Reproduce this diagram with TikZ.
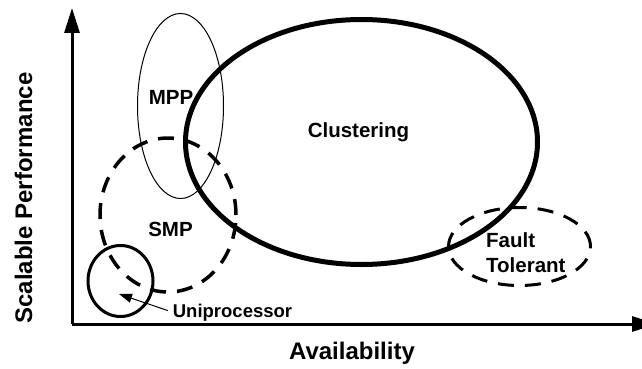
\documentclass[tikz,border=0pt]{standalone}
\usepackage{fontspec}
\setmainfont{Liberation Sans}
\usetikzlibrary{arrows.meta,shapes.geometric}
\begin{document}
\begin{tikzpicture}[x=1pt,y=-1pt,
  axis/.style={line width=3pt,-{Triangle[length=25pt,width=15pt]}},
  region/.style={ellipse,draw,inner sep=0pt},
  dashedregion/.style={region,dash pattern=on 16pt off 11pt},
  lbl/.style={inner sep=0pt,font=\fontsize{20.5}{25}\selectfont\bfseries},
  axislbl/.style={inner sep=0pt,font=\fontsize{24}{28}\selectfont\bfseries}]
\useasboundingbox (0,0) rectangle (642,369);
\clip (0,0) rectangle (642,369);

% axes
\coordinate (O) at (72,324);
\coordinate (ytop) at (72,8);
\coordinate (xend) at (657,324);
\draw[axis] (O) -- (ytop);
\draw[axis] (O) -- (xend);

% architecture regions
\node[region,line width=1pt,minimum width=86pt,minimum height=185pt] (mpp) at (180.5,106) {};
\node[region,line width=5pt,minimum width=352pt,minimum height=245pt] (clu) at (361.5,142) {};
\node[dashedregion,line width=3.5pt,minimum width=136pt,minimum height=154pt] (smp) at (168,215) {};
\node[region,line width=3pt,minimum width=65pt,minimum height=71pt] (uni) at (120.5,281) {};
\node[dashedregion,line width=3pt,minimum width=142pt,minimum height=78pt] (ft) at (519.5,246.5) {};

% labels
\node[lbl] (mpplbl) at (171,97) {MPP};
\node[lbl,anchor=base] (clulbl) at (358.5,137) {Clustering};
\node[lbl] (smplbl) at (170.5,229) {SMP};
\node[lbl,align=left,anchor=west] (ftlbl) at (486,252.5) {Fault\\Tolerant};
\node[inner sep=0pt,font=\fontsize{18.5}{22}\selectfont\bfseries,anchor=base] (unilbl) at (232.5,317) {Uniprocessor};

% pointer to the uniprocessor circle
\coordinate (unitip) at (119,294);
\draw[line width=1pt,-{Triangle[length=13pt,width=9pt]},shorten <=5pt] (unilbl.west) -- (unitip);

% axis titles
\node[axislbl,anchor=base] (xlbl) at (352,359) {Availability};
\node[axislbl,rotate=90,anchor=base] (ylbl) at (32,198) {Scalable Performance};
\end{tikzpicture}
\end{document}
